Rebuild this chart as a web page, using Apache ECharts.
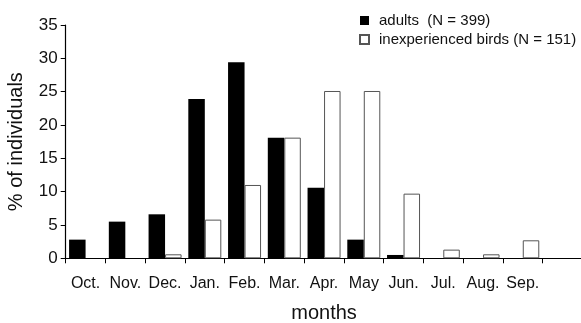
<!DOCTYPE html>
<html>
<head>
<meta charset="utf-8">
<script src="https://cdn.jsdelivr.net/npm/echarts@6/dist/echarts.min.js"></script>
<style>
  html, body { margin: 0; padding: 0; background: #fff; }
  #chart { width: 581px; height: 323px; }
</style>
</head>
<body>
<div id="chart"></div>
<script>
// Monthly share of individuals (%) for two groups of birds
var months = ['Oct.', 'Nov.', 'Dec.', 'Jan.', 'Feb.', 'Mar.', 'Apr.', 'May', 'Jun.', 'Jul.', 'Aug.', 'Sep.'];
var adults = [2.8, 5.5, 6.6, 23.9, 29.4, 18.1, 10.6, 2.8, 0.5, 0, 0, 0];
var inexperienced = [0, 0, 0.6, 5.8, 11.0, 18.1, 25.1, 25.1, 9.7, 1.3, 0.6, 2.7];
var yTicks = [0, 5, 10, 15, 20, 25, 30, 35];

var seriesNames = ['adults  (N = 399)', 'inexperienced birds (N = 151)'];
var FONT = '"Liberation Sans", Arial, sans-serif';

// an extra empty slot keeps the axis line running to the right edge
var categories = months.concat(['']);

// months with no birds get no bar at all
function bars(values) {
  return values.map(function (v) { return v === 0 ? '-' : v; });
}

var chart = echarts.init(document.getElementById('chart'), null, { renderer: 'canvas' });
chart.setOption({
  animation: false,
  backgroundColor: '#fff',
  textStyle: { fontFamily: FONT, color: '#111' },
  grid: { left: 65.7, right: -1.4, top: 25, bottom: 64.7, containLabel: false, outerBoundsMode: 'none' },
  legend: {
    orient: 'vertical',
    left: 354,
    top: 8,
    itemWidth: 9,
    itemHeight: 9,
    itemGap: 4,
    icon: 'rect',
    textStyle: { fontFamily: FONT, fontSize: 15, color: '#111', padding: [0, 0, 0, 5] },
    data: seriesNames
  },
  xAxis: {
    type: 'category',
    data: categories,
    boundaryGap: true,
    axisLine: { lineStyle: { color: '#000', width: 1.2 } },
    axisTick: { show: true, length: 5, lineStyle: { color: '#000', width: 1 } },
    axisLabel: { fontFamily: FONT, fontSize: 16, color: '#111', margin: 17, interval: 0 },
    name: 'months',
    nameLocation: 'middle',
    nameGap: 45,
    nameTextStyle: { fontFamily: FONT, fontSize: 20, color: '#111' },
    splitLine: { show: false }
  },
  yAxis: {
    type: 'value',
    min: yTicks[0],
    max: yTicks[yTicks.length - 1],
    interval: yTicks[1] - yTicks[0],
    axisLine: { show: true, lineStyle: { color: '#000', width: 1.2 } },
    axisTick: { show: true, length: 5, lineStyle: { color: '#000', width: 1 } },
    axisLabel: { fontFamily: FONT, fontSize: 17, color: '#111', margin: 8 },
    splitLine: { show: false },
    name: '% of individuals',
    nameLocation: 'middle',
    nameGap: 39,
    nameTextStyle: { fontFamily: FONT, fontSize: 20, color: '#111' }
  },
  series: [
    {
      name: seriesNames[0],
      type: 'bar',
      data: bars(adults),
      barWidth: 16.5,
      barGap: '0%',
      itemStyle: { color: '#000' }
    },
    {
      name: seriesNames[1],
      type: 'bar',
      data: bars(inexperienced),
      barWidth: 16.5,
      barGap: '0%',
      itemStyle: { color: '#fff', borderColor: '#555', borderWidth: 1 }
    }
  ]
});
</script>
</body>
</html>
